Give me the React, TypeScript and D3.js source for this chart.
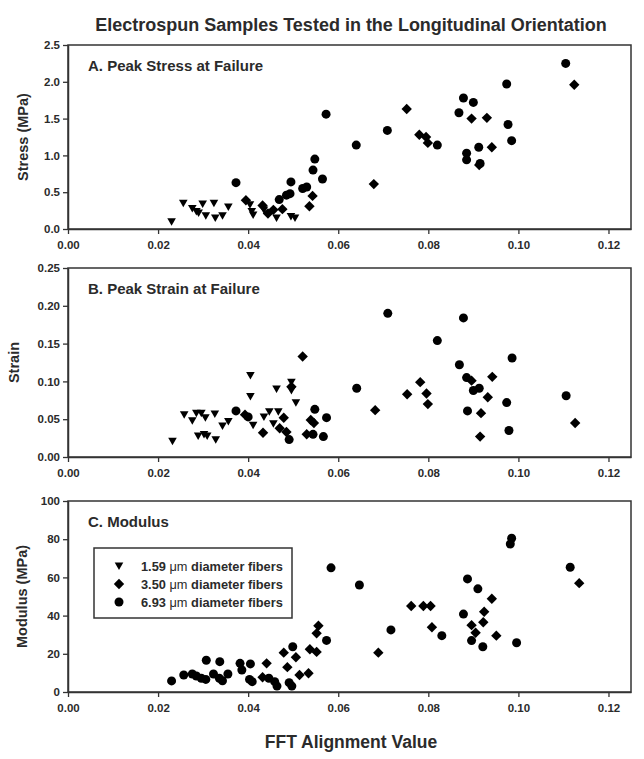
import React, { useEffect, useRef } from 'react';
import * as d3 from 'd3';

type Pt = [number, number];

// Panel A: peak stress (MPa)
const stressTri: Pt[] = [
  [0.0230, 0.10], [0.0256, 0.35], [0.0276, 0.28], [0.0285, 0.24], [0.0290, 0.22], [0.0299, 0.34],
  [0.0306, 0.18], [0.0324, 0.35], [0.0327, 0.15], [0.0343, 0.18], [0.0356, 0.30], [0.0404, 0.33],
  [0.0408, 0.24], [0.0411, 0.19], [0.0435, 0.26], [0.0463, 0.15], [0.0495, 0.17], [0.0504, 0.15],
];
const stressDia: Pt[] = [
  [0.0395, 0.39], [0.0432, 0.32], [0.0444, 0.21], [0.0456, 0.26], [0.0476, 0.27], [0.0536, 0.31],
  [0.0543, 0.45], [0.0679, 0.61], [0.0752, 1.63], [0.0780, 1.28], [0.0795, 1.25], [0.0799, 1.17],
  [0.0896, 1.50], [0.0913, 0.87], [0.0930, 1.51], [0.0941, 1.11], [0.1124, 1.96],
];
const stressCirc: Pt[] = [
  [0.0373, 0.63], [0.0469, 0.40], [0.0485, 0.46], [0.0493, 0.48], [0.0495, 0.64], [0.0521, 0.55],
  [0.0530, 0.57], [0.0544, 0.80], [0.0548, 0.95], [0.0565, 0.68], [0.0573, 1.56], [0.0640, 1.14],
  [0.0709, 1.34], [0.0820, 1.14], [0.0868, 1.58], [0.0878, 1.78], [0.0885, 1.03], [0.0885, 0.94],
  [0.0900, 1.72], [0.0912, 1.11], [0.0915, 0.89], [0.0974, 1.97], [0.0977, 1.42], [0.0985, 1.20],
  [0.1105, 2.25],
];

// Panel B: peak strain
const strainTri: Pt[] = [
  [0.0232, 0.021], [0.0258, 0.056], [0.0276, 0.048], [0.0285, 0.058], [0.0289, 0.028], [0.0296, 0.058],
  [0.0302, 0.030], [0.0305, 0.052], [0.0309, 0.028], [0.0326, 0.057], [0.0328, 0.023], [0.0343, 0.041],
  [0.0356, 0.047], [0.0405, 0.108], [0.0405, 0.080], [0.0411, 0.042], [0.0435, 0.053], [0.0447, 0.060],
  [0.0456, 0.044], [0.0463, 0.090], [0.0467, 0.060], [0.0496, 0.099], [0.0496, 0.088], [0.0506, 0.072],
];
const strainDia: Pt[] = [
  [0.0393, 0.056], [0.0433, 0.032], [0.0470, 0.038], [0.0479, 0.052], [0.0485, 0.033], [0.0496, 0.093],
  [0.0521, 0.133], [0.0530, 0.030], [0.0539, 0.049], [0.0546, 0.045], [0.0682, 0.062], [0.0753, 0.083],
  [0.0782, 0.099], [0.0796, 0.084], [0.0799, 0.070], [0.0896, 0.101], [0.0915, 0.027], [0.0917, 0.058],
  [0.0932, 0.079], [0.0942, 0.106], [0.1126, 0.045],
];
const strainCirc: Pt[] = [
  [0.0373, 0.061], [0.0400, 0.053], [0.0491, 0.023], [0.0544, 0.030], [0.0548, 0.063], [0.0567, 0.027],
  [0.0574, 0.052], [0.0641, 0.091], [0.0710, 0.190], [0.0820, 0.154], [0.0869, 0.122], [0.0878, 0.184],
  [0.0885, 0.105], [0.0887, 0.061], [0.0900, 0.088], [0.0913, 0.091], [0.0974, 0.072], [0.0979, 0.035],
  [0.0986, 0.131], [0.1106, 0.081],
];

// Panel C: modulus (MPa) - small fibers blur into round dots here
const modTri: Pt[] = [];
const modDia: Pt[] = [
  [0.0432, 7.7], [0.0441, 15.0], [0.0479, 20.6], [0.0487, 13.0], [0.0506, 18.2], [0.0514, 8.9],
  [0.0534, 9.8], [0.0537, 22.4], [0.0552, 21.0], [0.0552, 30.7], [0.0556, 34.7], [0.0689, 20.6],
  [0.0762, 45.0], [0.0789, 45.0], [0.0805, 45.0], [0.0808, 33.9], [0.0896, 35.0], [0.0905, 31.0],
  [0.0922, 36.5], [0.0924, 42.0], [0.0941, 48.8], [0.0951, 29.5], [0.1135, 57.0],
];
const modCirc: Pt[] = [
  [0.0230, 5.8], [0.0257, 8.9], [0.0276, 9.4], [0.0285, 8.4], [0.0296, 7.2], [0.0306, 6.6],
  [0.0307, 16.6], [0.0323, 9.4], [0.0336, 7.2], [0.0337, 15.9], [0.0343, 5.9], [0.0355, 9.4],
  [0.0382, 15.0], [0.0386, 11.5], [0.0403, 6.6], [0.0405, 14.7], [0.0409, 5.4], [0.0446, 7.2],
  [0.0459, 5.4], [0.0464, 3.1], [0.0491, 4.9], [0.0497, 3.1], [0.0499, 23.7], [0.0574, 27.0],
  [0.0584, 65.0], [0.0647, 56.0], [0.0717, 32.5], [0.0830, 29.5], [0.0878, 40.8], [0.0887, 59.2],
  [0.0896, 26.9], [0.0910, 54.0], [0.0921, 23.7], [0.0982, 77.5], [0.0985, 80.5], [0.0996, 25.8],
  [0.1115, 65.3],
];

const xTicks = [0, 0.02, 0.04, 0.06, 0.08, 0.1, 0.12];
const legendLabels = ['1.59', '3.50', '6.93'];

const FONT = '"Liberation Sans", Arial, sans-serif';
const INK = '#2b2b2b';

// marker shapes (SigmaPlot style)
const triPath = 'M-4.3,-3.4L4.3,-3.4L0,4.1Z';
const diaPath = 'M0,-5.2L5.2,0L0,5.2L-5.2,0Z';

const App = () => {
  const svgRef = useRef<SVGSVGElement>(null);

  useEffect(() => {
    const svg = d3.select(svgRef.current);
    svg.selectAll('*').remove();

    const x = d3.scaleLinear().domain([0, 0.125]).range([68, 631]);

    const panels = [
      { top: 45, bottom: 229, max: 2.5, ticks: d3.range(0, 2.51, 0.5), fmt: d3.format('.1f'),
        ytitle: 'Stress (MPa)', tx: 28, label: 'A. Peak Stress at Failure', series: [stressTri, stressDia, stressCirc] },
      { top: 268, bottom: 457, max: 0.25, ticks: d3.range(0, 0.251, 0.05), fmt: d3.format('.2f'),
        ytitle: 'Strain', tx: 19, label: 'B. Peak Strain at Failure', series: [strainTri, strainDia, strainCirc] },
      { top: 501, bottom: 692, max: 100, ticks: d3.range(0, 101, 20), fmt: d3.format('d'),
        ytitle: 'Modulus (MPa)', tx: 27, label: 'C. Modulus', series: [modTri, modDia, modCirc] },
    ];

    svg.append('text')
      .attr('x', 351).attr('y', 31)
      .attr('text-anchor', 'middle')
      .style('font', `bold 18px ${FONT}`)
      .style('fill', INK)
      .text('Electrospun Samples Tested in the Longitudinal Orientation');

    panels.forEach(p => {
      const y = d3.scaleLinear().domain([0, p.max]).range([p.bottom, p.top]);
      const g = svg.append('g');

      // frame
      g.append('rect')
        .attr('x', x(0)).attr('y', p.top)
        .attr('width', x(0.125) - x(0)).attr('height', p.bottom - p.top)
        .attr('fill', 'none').attr('stroke', '#333').attr('stroke-width', 1.5);

      const ya = g.append('g')
        .attr('transform', `translate(${x(0)},0)`)
        .call(d3.axisLeft(y).tickValues(p.ticks).tickSize(5).tickSizeOuter(0).tickFormat(p.fmt as any));
      const xa = g.append('g')
        .attr('transform', `translate(0,${p.bottom})`)
        .call(d3.axisBottom(x).tickValues(xTicks).tickSize(5).tickSizeOuter(0).tickFormat(d3.format('.2f') as any));
      [ya, xa].forEach(a => {
        a.select('.domain').attr('stroke', '#333').attr('stroke-width', 1.5);
        a.selectAll('line').attr('stroke', '#333').attr('stroke-width', 1.3);
        a.selectAll('text').style('font', `bold 11.5px ${FONT}`).style('fill', INK);
      });
      ya.selectAll('text').attr('x', -8);
      xa.selectAll('text').attr('y', 12);

      g.append('text')
        .attr('transform', `translate(${p.tx},${(p.top + p.bottom) / 2}) rotate(-90)`)
        .attr('text-anchor', 'middle')
        .style('font', `bold 14.5px ${FONT}`)
        .style('fill', INK)
        .text(p.ytitle);

      g.append('text')
        .attr('x', 88).attr('y', p.top + 26)
        .style('font', `bold 15px ${FONT}`)
        .style('fill', INK)
        .text(p.label);

      const [tri, dia, circ] = p.series;
      g.selectAll('.tri').data(tri).enter().append('path')
        .attr('d', triPath)
        .attr('transform', d => `translate(${x(d[0])},${y(d[1])})`)
        .attr('fill', '#000');
      g.selectAll('.dia').data(dia).enter().append('path')
        .attr('d', diaPath)
        .attr('transform', d => `translate(${x(d[0])},${y(d[1])})`)
        .attr('fill', '#000');
      g.selectAll('.circ').data(circ).enter().append('circle')
        .attr('cx', d => x(d[0])).attr('cy', d => y(d[1]))
        .attr('r', 4.5)
        .attr('fill', '#000');
    });

    // legend in panel C
    const lg = svg.append('g');
    lg.append('rect')
      .attr('x', 94).attr('y', 548).attr('width', 198).attr('height', 70)
      .attr('fill', 'none').attr('stroke', '#333').attr('stroke-width', 1.5);
    const shapes = [triPath, diaPath, null];
    legendLabels.forEach((lab, i) => {
      const ly = 566 + i * 18;
      if (shapes[i]) {
        lg.append('path').attr('d', shapes[i] as string)
          .attr('transform', `translate(119,${ly})`).attr('fill', '#000');
      } else {
        lg.append('circle').attr('cx', 119).attr('cy', ly).attr('r', 4.5).attr('fill', '#000');
      }
      const t = lg.append('text')
        .attr('x', 141).attr('y', ly + 4.5)
        .style('font', `bold 12.8px ${FONT}`)
        .style('fill', INK);
      t.append('tspan').text(`${lab} `);
      t.append('tspan').style('font-weight', 'normal').text('\u03bcm');
      t.append('tspan').text(' diameter fibers');
    });

    svg.append('text')
      .attr('x', 351).attr('y', 748)
      .attr('text-anchor', 'middle')
      .style('font', `bold 17.5px ${FONT}`)
      .style('fill', INK)
      .text('FFT Alignment Value');
  }, []);

  return (
    <div style={{ position: 'absolute', left: 0, top: 0 }}>
      <svg ref={svgRef} width={644} height={759} style={{ display: 'block', background: '#fff' }} />
    </div>
  );
};

export default App;
